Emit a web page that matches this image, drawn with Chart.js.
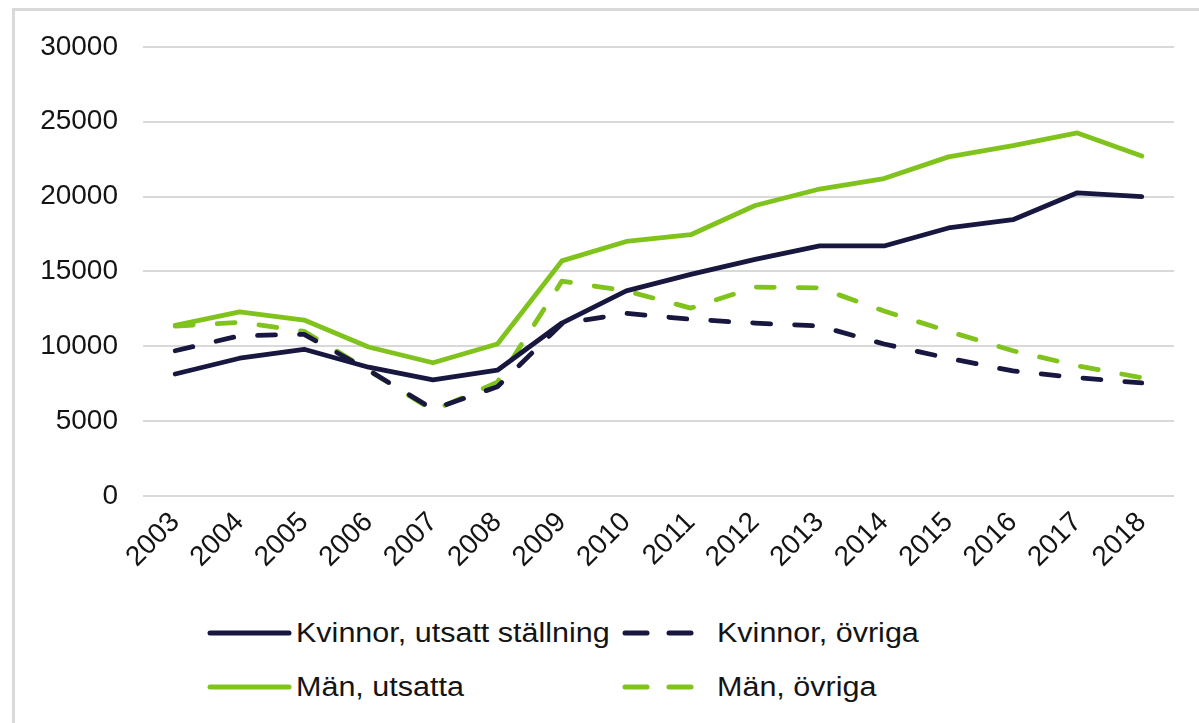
<!DOCTYPE html>
<html>
<head>
<meta charset="utf-8">
<script src="https://cdn.jsdelivr.net/npm/chart.js@4"></script>
<style>
	html, body { margin: 0; padding: 0; background: #fff; }
	body { width: 1199px; height: 723px; position: relative; overflow: hidden; font-family: "Liberation Sans", Arial, sans-serif; }
	#frame { position: absolute; left: 12px; top: 8px; width: 1187px; height: 715px; border-top: 3px solid #d9d9d9; border-left: 3px solid #d9d9d9; }
	#wrap { position: absolute; left: 14px; top: 5px; width: 1176px; height: 595px; }
	.leg { position: absolute; display: flex; align-items: center; font-size: 27px; color: #141414; white-space: nowrap; }
	.leg svg { display: block; }
	.leg span { display: inline-block; transform: scaleX(1.13); transform-origin: left center; }
</style>
</head>
<body>
<div id="frame"></div>
<div id="wrap"><canvas id="chart"></canvas></div>
<div id="legend"></div>
<script>
'use strict'

// categories
const years = ['2003', '2004', '2005', '2006', '2007', '2008', '2009', '2010', '2011', '2012', '2013', '2014', '2015', '2016', '2017', '2018'];

// series values
const kvinnorUtsatt = [8150, 9200, 9800, 8600, 7750, 8400, 11550, 13700, 14800, 15800, 16700, 16700, 17900, 18450, 20250, 20000];
const kvinnorOvriga = [9700, 10700, 10800, 8400, 5800, 7300, 11500, 12200, 11800, 11550, 11350, 10150, 9200, 8350, 7900, 7550];
const manUtsatta = [11400, 12300, 11750, 9950, 8900, 10150, 15700, 17000, 17450, 19400, 20500, 21200, 22650, 23400, 24250, 22700];
const manOvriga = [11350, 11600, 11000, 8400, 5700, 7600, 14350, 13700, 12550, 13950, 13900, 12350, 11000, 9700, 8700, 7900];

// tick labels
const yTicks = [0, 5000, 10000, 15000, 20000, 25000, 30000];

const seriesNames = ['Kvinnor, utsatt ställning', 'Kvinnor, övriga', 'Män, utsatta', 'Män, övriga'];

const navy = '#17173f';
const green = '#80c31c';
const dash = [18, 24];

function line(label, data, color, dashed) {
	return {
		label: label,
		data: data,
		borderColor: color,
		backgroundColor: color,
		borderWidth: 4.8,
		borderDash: dashed ? dash : [],
		borderCapStyle: 'round',
		borderJoinStyle: 'round',
		pointRadius: 0,
		tension: 0,
		fill: false,
	};
}

const datasets = [
	line(seriesNames[0], kvinnorUtsatt, navy, false),
	line(seriesNames[1], kvinnorOvriga, navy, true),
	line(seriesNames[2], manUtsatta, green, false),
	line(seriesNames[3], manOvriga, green, true),
];

const tickFont = { family: '"Liberation Sans", Arial, sans-serif', size: 28 };

new Chart(document.getElementById('chart'), {
	type: 'line',
	data: { labels: years, datasets: datasets },
	options: {
		responsive: true,
		maintainAspectRatio: false,
		animation: false,
		layout: { padding: { top: 31, right: 16, left: 0, bottom: 0 } },
		plugins: {
			legend: { display: false },
			tooltip: { enabled: false },
		},
		scales: {
			x: {
				offset: true,
				grid: { display: false },
				border: { display: false },
				ticks: {
					color: '#141414',
					font: tickFont,
					maxRotation: 45,
					minRotation: 45,
					padding: 2,
					autoSkip: false,
				},
				afterFit(scale) { scale.height = 104; },
			},
			y: {
				min: 0,
				max: 30000,
				afterBuildTicks(scale) { scale.ticks = yTicks.map(v => ({ value: v })); },
				grid: { color: '#d9d9d9', lineWidth: 2, drawTicks: false },
				border: { display: false },
				ticks: {
					color: '#141414',
					font: tickFont,
					padding: 25,
					callback: (v) => String(v),
				},
				afterFit(scale) { scale.width = 129; },
			},
		},
	},
});

// legend laid out in two columns like the original
const legendSpots = [
	{ x: 205, y: 633 },
	{ x: 620, y: 633 },
	{ x: 205, y: 687 },
	{ x: 620, y: 687 },
];
const legendEl = document.getElementById('legend');
datasets.forEach((ds, i) => {
	const spot = legendSpots[i];
	const dashed = ds.borderDash.length > 0;
	const w = dashed ? 95 : 87;
	const item = document.createElement('div');
	item.className = 'leg';
	item.style.left = spot.x + 'px';
	item.style.top = (spot.y - 18) + 'px';
	item.style.height = '36px';
	const lineSvg = dashed
		? '<line x1="5" y1="6" x2="27" y2="6" /><line x1="49" y1="6" x2="71" y2="6" />'
		: '<line x1="5" y1="6" x2="84" y2="6" />';
	item.innerHTML = '<svg width="' + w + '" height="12"><g stroke="' + ds.borderColor + '" stroke-width="5" stroke-linecap="round">' + lineSvg + '</g></svg><span style="margin-left:' + (dashed ? 2 : 4) + 'px">' + ds.label + '</span>';
	legendEl.appendChild(item);
});
</script>
</body>
</html>
